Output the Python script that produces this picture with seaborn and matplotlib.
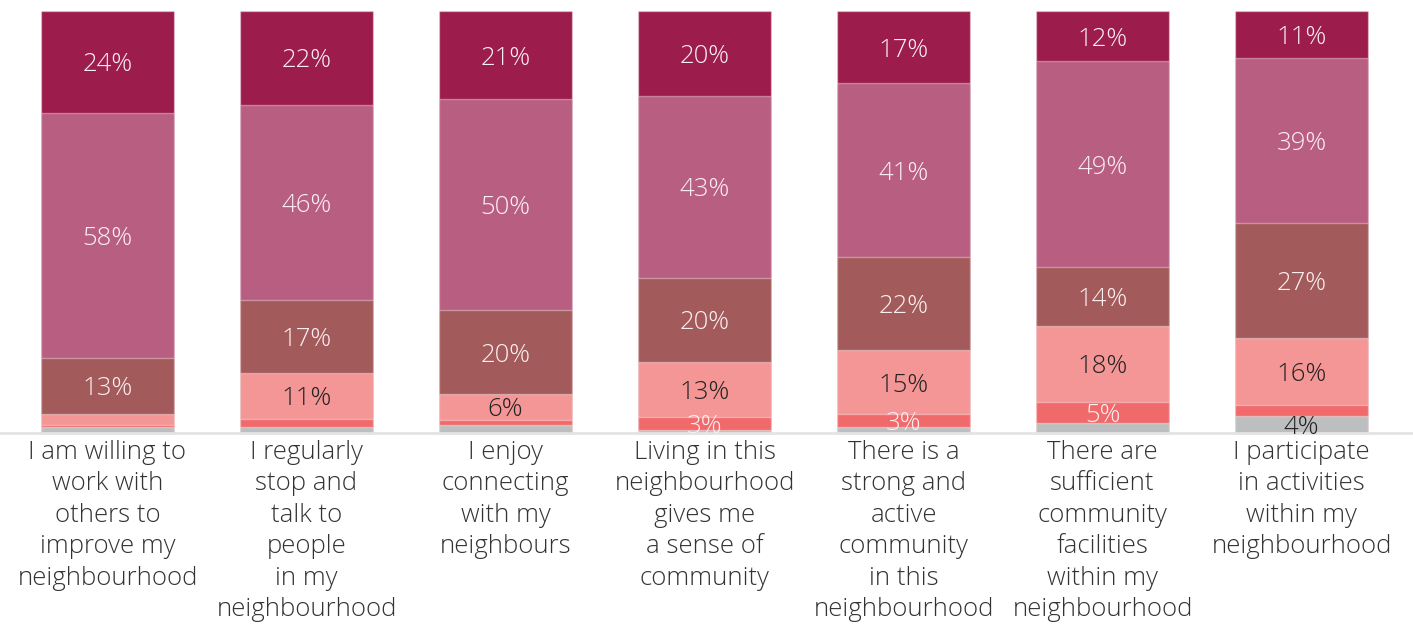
import numpy as np
import pandas as pd
import matplotlib
matplotlib.use('Agg')
import matplotlib.pyplot as plt
import seaborn as sns

# --- data (percent of respondents, bottom to top) ---
statements = [
    "I am willing to\nwork with\nothers to\nimprove my\nneighbourhood",
    "I regularly\nstop and\ntalk to\npeople\nin my\nneighbourhood",
    "I enjoy\nconnecting\nwith my\nneighbours",
    "Living in this\nneighbourhood\ngives me\na sense of\ncommunity",
    "There is a\nstrong and\nactive\ncommunity\nin this\nneighbourhood",
    "There are\nsufficient\ncommunity\nfacilities\nwithin my\nneighbourhood",
    "I participate\nin activities\nwithin my\nneighbourhood",
]
dont_know = [1.5, 1.5, 2.0, 0.7, 1.5, 2.5, 4.0]
strongly_disagree = [0.3, 1.7, 1.2, 3.0, 3.0, 5.0, 2.5]
disagree = [2.8, 11.0, 6.0, 13.0, 15.0, 18.0, 16.0]
neutral = [13.0, 17.0, 20.0, 20.0, 22.0, 14.0, 27.0]
agree = [58.0, 46.0, 50.0, 43.0, 41.0, 49.0, 39.0]
strongly_agree = [24.0, 22.0, 21.0, 20.0, 17.0, 12.0, 11.0]

layers = ["Don't know", "Strongly disagree", "Disagree", "Neutral", "Agree", "Strongly agree"]
values = [dont_know, strongly_disagree, disagree, neutral, agree, strongly_agree]
colors = ["#BDBEC0", "#F06A6C", "#F49696", "#A35A5A", "#B85E81", "#9C1C4C"]
text_colors = ["#222222", "#FBEFF2", "#222222", "#FBEFF2", "#FBEFF2", "#FBEFF2"]
font = ["Open Sans", "DejaVu Sans"]

keys = [f"s{i}" for i in range(len(statements))]
df = pd.DataFrame({"key": keys})
for name, vals in zip(layers, values):
    df[name] = vals
cum = df[layers].cumsum(axis=1)
cum = cum.div(cum[layers[-1]], axis=0) * 100
cum["key"] = keys

fig = plt.figure(figsize=(14.13, 6.27), dpi=100)
ax = fig.add_axes([0, 0.3094, 1, 0.6731])

# stacked by overdrawing cumulative totals, top layer first
for name, c in reversed(list(zip(layers, colors))):
    sns.barplot(data=cum, x="key", y=name, order=keys,
                color=c, width=0.67, saturation=1, ax=ax,
                edgecolor=(1, 1, 1, 0.35), linewidth=1)

# segment labels
for i, name in enumerate(layers):
    lower = cum[layers[i - 1]] if i > 0 else pd.Series(np.zeros(len(keys)))
    upper = cum[name]
    for j in range(len(keys)):
        v = values[i][j]
        if v >= 3:
            ax.text(j, (lower[j] + upper[j]) / 2, f"{round(v)}%", ha="center",
                    va="center_baseline", fontsize=18.5, color=text_colors[i],
                    fontweight="light", family=font)

ax.set_xlim(-0.54, 6.56)
ax.set_ylim(0, 100)
ax.set_xlabel("")
ax.set_ylabel("")
ax.set_yticks([])
ax.set_xticks(range(len(keys)))
ax.set_xticklabels(statements, fontsize=18.5, color="#333333", fontweight="light",
                   family=font, linespacing=1.34)
ax.tick_params(axis="x", length=0, pad=5)
for s in ["top", "left", "right"]:
    ax.spines[s].set_visible(False)
ax.spines["bottom"].set_color("#E3E3E3")
ax.spines["bottom"].set_linewidth(2)
ax.set_facecolor("white")

fig.savefig("out.png", dpi=100, facecolor="white")
